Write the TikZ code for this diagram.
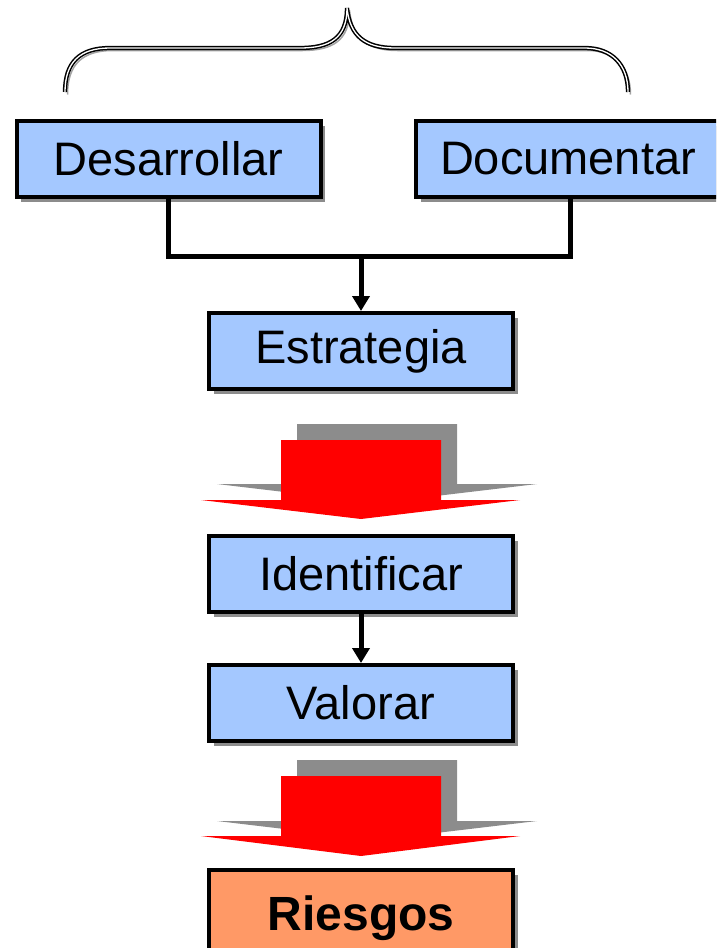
\documentclass[tikz,border=0pt]{standalone}
\usepackage{fontspec}
\setmainfont{Liberation Sans}
\usetikzlibrary{arrows.meta,shadows}
\definecolor{boxblue}{HTML}{A4C8FF}
\definecolor{boxorange}{HTML}{FF9966}
\definecolor{shgray}{HTML}{8C8C8C}
\tikzset{
  stepbox/.style={draw=black, line width=4pt, fill=boxblue, minimum width=304pt, minimum height=76pt,
    inner sep=0pt, font=\fontsize{47}{52}\selectfont,
    drop shadow={shadow xshift=4.5pt, shadow yshift=-4.5pt, fill=shgray, opacity=1}},
  conn/.style={line width=5pt, black},
  bigred/.style={fill=red, draw=none},
  biggray/.style={fill=shgray, draw=none},
  bracestyle/.style={line width=1.5pt, draw=black, double=white, double distance=1.3pt},
}
\begin{document}
\begin{tikzpicture}[x=1pt,y=-1pt]
\useasboundingbox (0,0) rectangle (716,948);
\clip (0,0) rectangle (716,948);
% brace
\def\bracepath{(65,92) .. controls (65,62) and (80,48) .. (110,48) -- (300,48) .. controls (330,48) and (347,38) .. (347,8)
  .. controls (350,36) and (365,48) .. (395,48) -- (585,48) .. controls (612,48) and (628,65) .. (628,92)}
\draw[line width=1.5pt, shgray!80] [shift={(2.5,2.5)}] \bracepath;
\draw[bracestyle] \bracepath;
% boxes
\node[stepbox] (des) at (168.5,159) {Desarrollar};
\node[stepbox, minimum width=312pt] (doc) at (572,159) {\hspace*{-8pt}Documentar};
\node[stepbox] (est) at (361,351) {Estrategia};
\node[stepbox] (ide) at (361,574) {Identificar};
\node[stepbox] (val) at (361,703) {Valorar};
\node[stepbox, fill=boxorange, minimum height=96pt, font=\fontsize{48}{52}\selectfont\bfseries] (rie) at (361,918) {\raisebox{9pt}{Riesgos}};
% connectors
\coordinate (j) at (361,256);
\draw[conn, line join=miter] (des.south) |- (j) -| ([xshift=-2pt]doc.south);
\draw[conn, -{Triangle[length=15pt,width=17pt]}] (j) -- (est.north);
\draw[conn, -{Triangle[length=15pt,width=17pt]}] (ide.south) -- (val.north);
% big arrow 1
\fill[biggray] (297,424) -- (457,424) -- (457,484) -- (537,484) -- (377,503) -- (217,484) -- (297,484) -- cycle;
\fill[bigred] (281,440) -- (441,440) -- (441,500) -- (520,500) -- (361,519) -- (201,500) -- (281,500) -- cycle;
% big arrow 2
\fill[biggray] (297,760) -- (457,760) -- (457,821) -- (537,821) -- (377,840) -- (217,821) -- (297,821) -- cycle;
\fill[bigred] (281,776) -- (441,776) -- (441,836) -- (520,836) -- (361,856) -- (201,836) -- (281,836) -- cycle;
\end{tikzpicture}
\end{document}
